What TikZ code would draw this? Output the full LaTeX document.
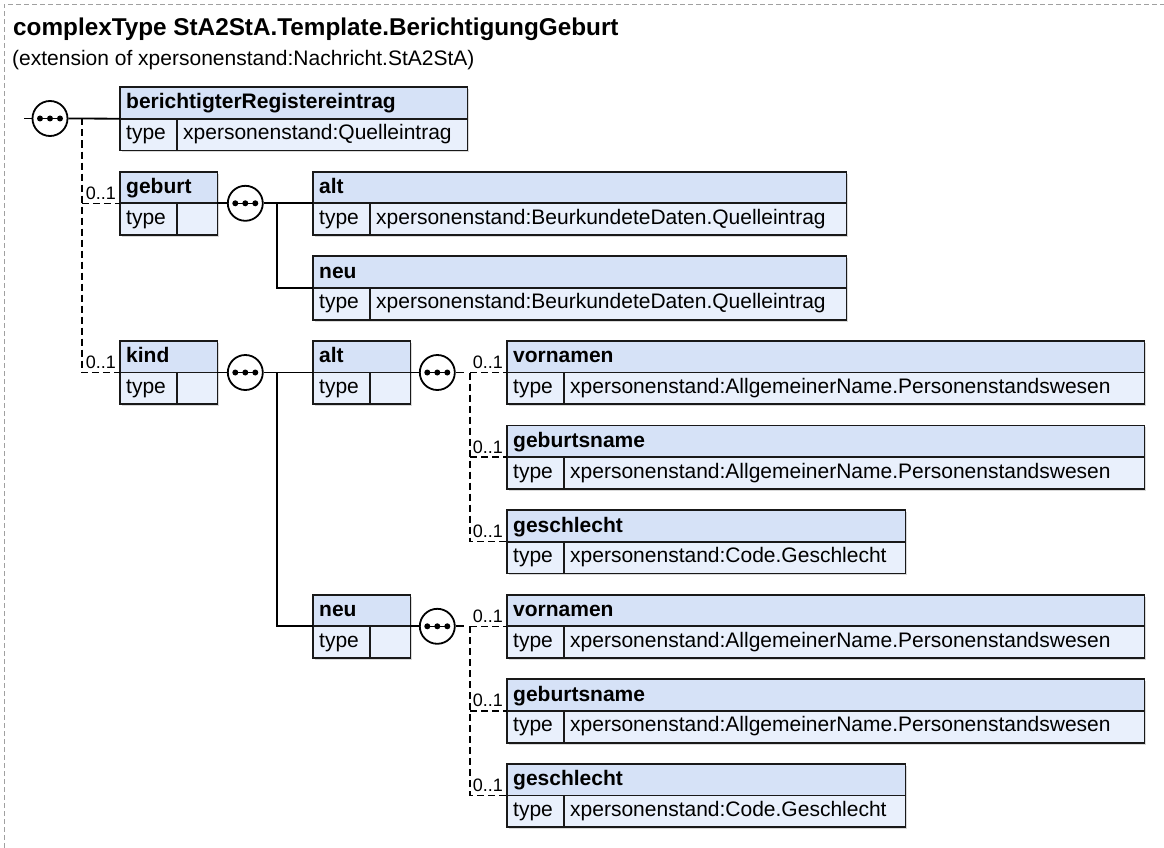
\documentclass[tikz,border=0pt]{standalone}
\usepackage{fontspec}
\setmainfont{Liberation Sans}
\usepackage{tikz}
\usetikzlibrary{positioning, calc}
\usepackage{xcolor}
\definecolor{headblue}{RGB}{214,226,247}
\definecolor{bodyblue}{RGB}{233,240,252}
\definecolor{framegray}{RGB}{160,160,160}

\begin{document}
\begin{tikzpicture}[x=1pt, y=-1pt,
  txt/.style={inner sep=0pt, font=\fontsize{21}{25}\selectfont},
  lbl/.style={inner sep=0pt, font=\fontsize{21}{25}\selectfont\bfseries},
  card/.style={inner sep=0pt, font=\fontsize{18}{21}\selectfont},
  boxline/.style={line width=1.8pt, draw=black!90},
  conn/.style={line width=1.8pt},
  opt/.style={line width=1.5pt, dash pattern=on 7pt off 4pt},
  seq/.style={circle, draw, line width=1.8pt, fill=white, minimum size=35pt, inner sep=0pt}]
  \useasboundingbox (0,0) rectangle (1164,848);
  % frame
  \draw[framegray, line width=0.8pt, dash pattern=on 5pt off 3pt] (4,848) -- (4,4) -- (1164,4);
  \node[lbl, anchor=base west, font=\fontsize{24.3}{28}\selectfont\bfseries] (title) at (13,35.5) {complexType StA2StA.Template.BerichtigungGeburt};
  \node[txt, anchor=base west] (subtitle) at (12,66) {(extension of xpersonenstand:Nachricht.StA2StA)};
  % element boxes: name/x/top/width/label/type
  \foreach \nm/\x/\y/\w/\lb/\typ in {
    berichtigter/120/87/347/berichtigterRegistereintrag/xpersonenstand:Quelleintrag,
    geburt/120/171.6/97/geburt/{},
    geburtAlt/313/171.6/533/alt/xpersonenstand:BeurkundeteDaten.Quelleintrag,
    geburtNeu/313/256.2/533/neu/xpersonenstand:BeurkundeteDaten.Quelleintrag,
    kind/120/340.8/97/kind/{},
    kindAlt/313/340.8/97/alt/{},
    vornamenAlt/507/340.8/637/vornamen/xpersonenstand:AllgemeinerName.Personenstandswesen,
    geburtsnameAlt/507/425.4/637/geburtsname/xpersonenstand:AllgemeinerName.Personenstandswesen,
    geschlechtAlt/507/510/398/geschlecht/xpersonenstand:Code.Geschlecht,
    kindNeu/313/594.6/97/neu/{},
    vornamenNeu/507/594.6/637/vornamen/xpersonenstand:AllgemeinerName.Personenstandswesen,
    geburtsnameNeu/507/679.2/637/geburtsname/xpersonenstand:AllgemeinerName.Personenstandswesen,
    geschlechtNeu/507/763.8/398/geschlecht/xpersonenstand:Code.Geschlecht} {
    \node[minimum width=\w pt, minimum height=63pt, inner sep=0pt, anchor=north west] (\nm) at (\x,\y) {};
    \fill[black!15] ($(\nm.north west)+(2,2)$) rectangle ($(\nm.south east)+(2,2)$);
    \fill[headblue] (\nm.north west) rectangle (\nm.east);
    \fill[bodyblue] (\nm.west) rectangle (\nm.south east);
    \draw[boxline] (\nm.north west) rectangle (\nm.south east);
    \draw[boxline] (\nm.west) -- (\nm.east) ($(\nm.west)+(57,0)$) -- ($(\nm.south west)+(57,0)$);
    \node[lbl, anchor=base west] (\nm-label) at ($(\nm.north west)+(6,22)$) {\lb};
    \node[txt, anchor=base west] (\nm-type) at ($(\nm.west)+(6,21)$) {type};
    \node[txt, anchor=base west] (\nm-value) at ($(\nm.west)+(63,21)$) {\typ};
  }
  % sequence compositors
  \node[seq] (seqRoot) at (50,118.5) {};
  \node[seq, right=9.5pt of geburt] (seqGeburt) {};
  \node[seq, right=9.5pt of kind] (seqKind) {};
  \node[seq, right=8.5pt of kindAlt] (seqKindAlt) {};
  \node[seq, right=8.5pt of kindNeu] (seqKindNeu) {};
  \foreach \s in {seqRoot, seqGeburt, seqKind, seqKindAlt, seqKindNeu} {
    \draw[line width=1.6pt] ($(\s)+(-11,0)$) -- ($(\s)+(11,0)$);
    \foreach \d in {-10,0,10}
      \fill ($(\s)+(\d,0)$) circle (3pt);
  }
  % root
  \coordinate (rootIn) at (24,118.5);
  \coordinate (forkRoot) at ($(seqRoot.east)+(13.5,0)$);
  \draw[conn] (rootIn) -- (seqRoot.west);
  \draw[conn] (seqRoot.east) -- (berichtigter.west);
  \draw[opt] (forkRoot) |- (kind.west);
  \draw[opt] (forkRoot |- geburt.west) -- (geburt.west);
  % geburt
  \coordinate (forkGeburt) at ($(seqGeburt.east)+(13,0)$);
  \draw[conn] (geburt.east) -- (seqGeburt.west);
  \draw[conn] (seqGeburt.east) -- (geburtAlt.west);
  \draw[conn] (forkGeburt) |- (geburtNeu.west);
  % kind
  \coordinate (forkKind) at ($(seqKind.east)+(13,0)$);
  \draw[conn] (kind.east) -- (seqKind.west);
  \draw[conn] (seqKind.east) -- (kindAlt.west);
  \draw[conn] (forkKind) |- (kindNeu.west);
  % alt / neu of kind
  \foreach \p/\q in {Alt/vornamenAlt, Neu/vornamenNeu} {
    \coordinate (stubKind\p) at ($(seqKind\p.east)+(8.5,0)$);
    \coordinate (forkKind\p) at ($(seqKind\p.east)+(14.5,0)$);
    \draw[conn] (kind\p.east) -- (seqKind\p.west);
    \draw[conn] (seqKind\p.east) -- (stubKind\p);
    \draw[opt] (forkKind\p) |- (geschlecht\p.west);
    \draw[opt] (forkKind\p) -- (vornamen\p.west);
    \draw[opt] (forkKind\p |- geburtsname\p.west) -- (geburtsname\p.west);
  }
  % cardinalities
  \foreach \nm in {geburt, kind, vornamenAlt, geburtsnameAlt, geschlechtAlt, vornamenNeu, geburtsnameNeu, geschlechtNeu}
    \node[card, anchor=base east] (\nm-card) at ($(\nm.west)+(-4,-4)$) {0..1};
\end{tikzpicture}
\end{document}
